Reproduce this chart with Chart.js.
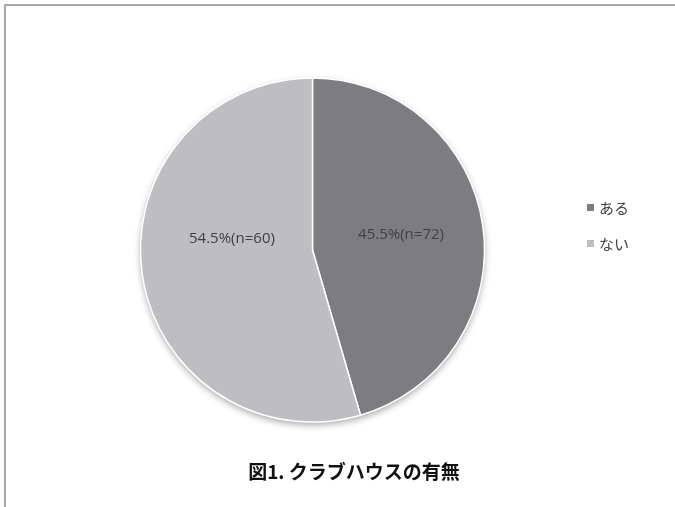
<!DOCTYPE html>
<html lang="ja">
<head>
<meta charset="utf-8">
<title>クラブハウスの有無</title>
<script src="https://cdn.jsdelivr.net/npm/chart.js@4.4.1/dist/chart.umd.min.js"></script>
<style>
  html, body { margin: 0; padding: 0; background: #fff; overflow: hidden; }
  #wrap { position: relative; width: 675px; height: 507px; }
  /* chart frame, only top and left edges fall inside the view */
  #frame {
    position: absolute; left: 4px; top: 4px; width: 720px; height: 560px;
    border-top: 2px solid #a9a9a9; border-left: 2px solid #a9a9a9;
  }
  #chart { position: absolute; left: 0; top: 0; }
</style>
</head>
<body>
<div id="wrap">
  <div id="frame"></div>
  <canvas id="chart" width="675" height="507"></canvas>
</div>
<script>
const categories = ['ある', 'ない'];
const shares = [45.5, 54.5];
const counts = [72, 60];
const sliceColors = ['#7d7d81', '#bebec2'];
const chartTitle = '図1. クラブハウスの有無';

const labelFont = '15px "Open Sans", sans-serif';
const jpFont = '"Noto Sans CJK JP", "Noto Sans", sans-serif';

// soft shadow under the whole pie
const pieShadow = {
  id: 'pieShadow',
  beforeDatasetsDraw(chart) {
    const arc = chart.getDatasetMeta(0).data[0];
    if (!arc) return;
    const ctx = chart.ctx;
    ctx.save();
    ctx.shadowColor = 'rgba(0,0,0,0.35)';
    ctx.shadowBlur = 7;
    ctx.shadowOffsetY = 3;
    ctx.fillStyle = '#fff';
    ctx.beginPath();
    ctx.arc(arc.x, arc.y, arc.outerRadius, 0, Math.PI * 2);
    ctx.fill();
    ctx.restore();
  }
};

// "45.5%(n=72)" style labels inside each slice
const sliceLabels = {
  id: 'sliceLabels',
  afterDatasetsDraw(chart, args, opts) {
    const ctx = chart.ctx;
    const meta = chart.getDatasetMeta(0);
    ctx.save();
    ctx.font = labelFont;
    ctx.fillStyle = '#404040';
    ctx.textAlign = 'center';
    ctx.textBaseline = 'middle';
    meta.data.forEach((arc, i) => {
      const mid = (arc.startAngle + arc.endAngle) / 2;
      const r = arc.outerRadius * opts.distance;
      const nudge = opts.nudge[i] || [0, 0];
      const x = arc.x + Math.cos(mid) * r + nudge[0];
      const y = arc.y + Math.sin(mid) * r + nudge[1];
      ctx.fillText(shares[i].toFixed(1) + '%(n=' + counts[i] + ')', x, y);
    });
    ctx.restore();
  }
};

// legend on the right and caption below the pie
const sideLegend = {
  id: 'sideLegend',
  afterDraw(chart, args, opts) {
    const ctx = chart.ctx;
    const ds = chart.data.datasets[0];
    ctx.save();
    ctx.textBaseline = 'middle';
    ctx.textAlign = 'left';
    ctx.font = '15px ' + jpFont;
    chart.data.labels.forEach((lab, i) => {
      const y = opts.y + i * opts.step;
      ctx.fillStyle = ds.backgroundColor[i];
      ctx.fillRect(opts.x, y - 4, 7, 7);
      ctx.fillStyle = '#404040';
      ctx.fillText(lab, opts.x + 12, y);
    });
    ctx.font = 'bold 19px ' + jpFont;
    ctx.fillStyle = '#111';
    ctx.textAlign = 'center';
    ctx.fillText(chartTitle, opts.titleX, opts.titleY);
    ctx.restore();
  }
};

new Chart(document.getElementById('chart'), {
  type: 'pie',
  data: {
    labels: categories,
    datasets: [{
      data: shares,
      backgroundColor: sliceColors,
      borderColor: '#ffffff',
      borderWidth: 1.5,
      radius: 172
    }]
  },
  options: {
    responsive: false,
    animation: false,
    layout: { padding: { left: 0, right: 50, top: 0, bottom: 7 } },
    plugins: {
      legend: { display: false },
      title: { display: false },
      tooltip: { enabled: false },
      sliceLabels: { distance: 0.52, nudge: [[0, -3], [8, -24]] },
      sideLegend: { x: 587, y: 208, step: 36, titleX: 354, titleY: 472 }
    }
  },
  plugins: [pieShadow, sliceLabels, sideLegend]
});
</script>
</body>
</html>
